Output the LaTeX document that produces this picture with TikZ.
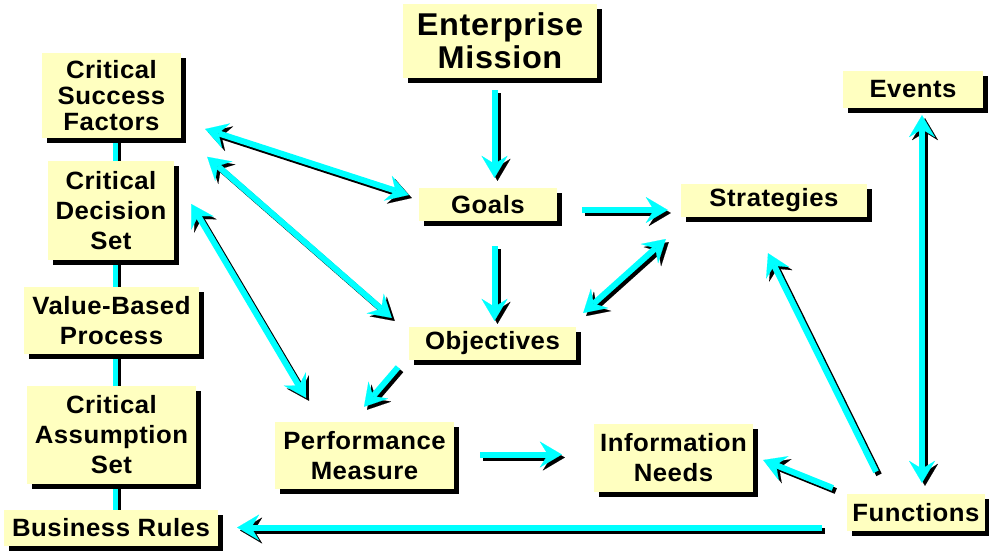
\documentclass[tikz,border=0pt]{standalone}
\usepackage{fontspec}
\setmainfont{Liberation Sans}[FakeStretch=1.03, LetterSpace=2]
\usetikzlibrary{arrows.meta,shadows,backgrounds}

\definecolor{boxfill}{HTML}{FFFFC0}
\definecolor{linkcyan}{HTML}{00FFFF}

\tikzset{
  card/.style={fill=boxfill, inner sep=0pt, align=center,
    font=\fontsize{25}{30}\selectfont\bfseries,
    general shadow={fill=black, shadow xshift=5pt, shadow yshift=-5pt}},
  tightcard/.style={card, font=\fontsize{25}{26}\selectfont\bfseries},
  bigcard/.style={card, font=\fontsize{31.5}{33}\selectfont\bfseries},
  Head/.tip={Stealth[length=22pt, width=26pt, inset=8pt, line width=0.1pt]},
  linkshade/.style={draw=black, line width=6pt,
    transform canvas={shift={(3pt,-3pt)}}},
  linkmain/.style={draw=linkcyan, line width=6pt},
  spine/.style={line width=5pt},
}

% a cyan connector with its black drop shadow
\newcommand\shadowlink[3][]{%
  \draw[linkshade,#1] #2 -- #3;
  \draw[linkmain,#1] #2 -- #3;}

\begin{document}
\begin{tikzpicture}[x=1pt, y=-1pt]
\useasboundingbox (0,0) rectangle (989,550);

% boxes
\node[bigcard, minimum width=194pt, minimum height=74pt] (EM) at (500,41) {Enterprise\\Mission};
\node[tightcard, minimum width=139pt, minimum height=85pt] (CSF) at (111.5,95.5) {Critical\\Success\\Factors};
\node[card, minimum width=126pt, minimum height=99pt] (CDS) at (111,210.5) {Critical\\Decision\\Set};
\node[card, minimum width=175pt, minimum height=67pt] (VBP) at (111.5,320.5) {Value-Based\\Process};
\node[card, minimum width=169pt, minimum height=98pt] (CAS) at (111.5,435) {Critical\\Assumption\\Set};
\node[card, minimum width=214pt, minimum height=36pt] (BR) at (111,528) {Business Rules};
\node[card, minimum width=138pt, minimum height=33pt] (Goals) at (488,204.5) {Goals};
\node[card, minimum width=186pt, minimum height=33pt] (Strat) at (774,200.5) {Strategies};
\node[card, minimum width=167pt, minimum height=33pt] (Obj) at (492.5,343.5) {Objectives};
\node[card, minimum width=179pt, minimum height=67pt] (PM) at (364.5,455.5) {Performance\\Measure};
\node[card, minimum width=159pt, minimum height=68pt] (IN) at (673.5,458) {Information\\Needs};
\node[card, minimum width=138pt, minimum height=37pt] (Fun) at (916,512.5) {Functions};
\node[card, minimum width=140pt, minimum height=37pt] (Ev) at (913,89.5) {Events};

% spine joining the left column
\begin{scope}[on background layer]
  \shadowlink[spine]{([xshift=3.5]CSF.south)}{([xshift=3.5]CSF.south |- BR.north)}
\end{scope}

% connectors
\shadowlink[-Head]{([shift={(-5.5,12)}]EM.south)}{([shift={(6.5,-10)}]Goals.north)}
\shadowlink[-Head]{([shift={(25,5.5)}]Goals.east)}{([shift={(-13,9.5)}]Strat.west)}
\shadowlink[-Head]{([shift={(6.5,25)}]Goals.south)}{([shift={(2,-6)}]Obj.north)}
\shadowlink[Head-Head]{([shift={(24,33.5)}]CSF.east)}{([shift={(-10,-9.5)}]Goals.west)}
\shadowlink[Head-Head]{([shift={(33,-4)}]CDS.north east)}{([shift={(-17,-25.5)}]Obj.west)}
\shadowlink[Head-Head]{([shift={(17,-6.5)}]CDS.east)}{([shift={(-58.5,-24)}]PM.north)}
\shadowlink[Head-Head]{([shift={(-15,38.5)}]Strat.west)}{([shift={(7,-30.5)}]Obj.east)}
\shadowlink[-Head]{([shift={(-94.5,7)}]Obj.south)}{([shift={(-0.5,-15)}]PM.north)}
\shadowlink[-Head]{([shift={(26,-1)}]PM.east)}{([shift={(-32,-3.5)}]IN.west)}
\shadowlink[-Head]{([shift={(-14,-24.5)}]Fun.west)}{([shift={(10,2)}]IN.east)}
\shadowlink[-Head]{([shift={(-40,-22)}]Fun.north)}{([shift={(-6,36)}]Strat.south)}
\shadowlink[Head-Head]{([shift={(9,7)}]Ev.south)}{([shift={(6,-11)}]Fun.north)}
\shadowlink[-Head]{([shift={(-25,15)}]Fun.west)}{([shift={(19,-0.5)}]BR.east)}

\end{tikzpicture}
\end{document}
